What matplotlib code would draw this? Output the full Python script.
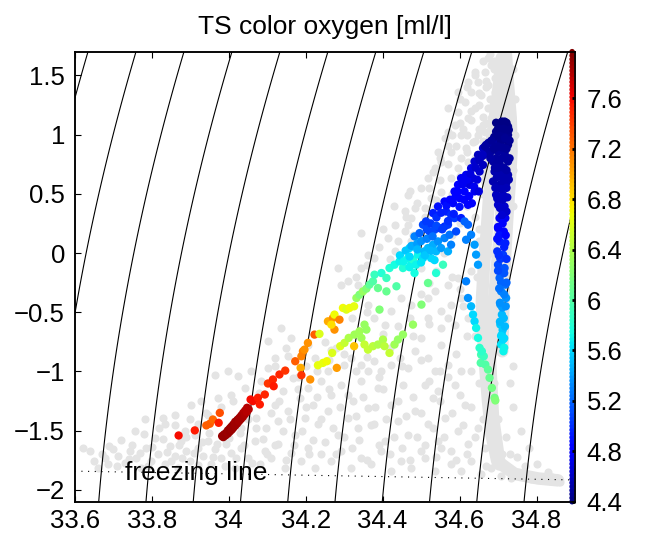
import numpy as np
import matplotlib
matplotlib.use("Agg")
import matplotlib.pyplot as plt
from matplotlib.ticker import FuncFormatter

plt.rcParams['font.family'] = ['Liberation Sans', 'DejaVu Sans']

# ---- background stations (grey), salinity / temperature ----
grey_sal = [
    33.622, 33.639, 33.661, 33.678, 33.687, 33.700, 33.713, 33.730, 33.743, 33.756,
    33.760, 33.773, 33.782, 33.786, 33.799, 33.808, 33.817, 33.829, 33.834, 33.847,
    33.860, 33.868, 33.877, 33.890, 33.899, 33.912, 33.920, 33.933, 33.946, 33.955,
    33.964, 33.981, 33.994, 34.007, 34.016, 34.033, 34.050, 34.068, 34.081, 34.094,
    34.111, 34.128, 34.146, 34.163, 34.189, 34.206, 34.224, 34.241, 34.267, 34.293,
    34.319, 34.345, 34.371, 34.397, 34.423, 34.449, 34.475, 34.509, 34.535, 34.553,
    34.579, 34.605, 34.631, 34.657, 34.683, 34.708, 34.735, 34.760, 34.786, 34.812,
    34.838, 34.856,
    33.834, 33.860, 33.886, 33.903, 33.920, 33.929, 33.946, 33.964, 33.972, 33.998,
    34.007, 34.024, 34.033, 34.042, 34.059, 34.072, 34.085, 34.098, 34.102, 34.120,
    34.128, 34.141, 34.154, 34.167, 34.172, 34.185, 34.198, 34.206, 34.219, 34.232,
    34.241, 34.258, 34.267, 34.284, 34.293, 34.310, 34.323, 34.336, 34.345, 34.362,
    34.379, 34.388, 34.405, 34.423, 34.440, 34.453, 34.466, 34.483, 34.501, 34.518,
    34.531, 34.544, 34.561, 34.579, 34.596, 34.613, 34.622, 34.648, 34.665,
    34.137, 34.163, 34.102, 34.120, 34.154, 34.206, 34.224, 34.258, 34.267, 34.301,
    34.319, 34.345, 34.362, 34.379, 34.397, 34.423, 34.444, 34.466, 34.483, 34.501,
    34.518, 34.535, 34.553, 34.570, 34.587, 34.605, 34.509, 34.544,
    34.345, 34.362, 34.379, 34.414, 34.431, 34.457, 34.466, 34.475, 34.501, 34.518,
    34.535, 34.553, 34.570, 34.579, 34.587, 34.596, 34.605, 34.622, 34.553, 34.518,
    34.475, 34.449, 34.423, 34.405, 34.379, 34.362, 34.336, 34.310, 34.284, 34.345,
    34.293,
    34.431, 34.457, 34.466, 34.483, 34.501, 34.518, 34.527, 34.535, 34.544, 34.553,
    34.561, 34.570, 34.579, 34.587, 34.596, 34.605, 34.613, 34.622, 34.631, 34.639,
    34.648, 34.657, 34.665, 34.674, 34.683, 34.691, 34.674, 34.661, 34.648, 34.635,
    34.618, 34.605, 34.596, 34.579, 34.553, 34.535, 34.509, 34.475, 34.570, 34.596,
    34.622, 34.639, 34.674, 34.700, 34.691, 34.687, 34.665, 34.622, 34.683,
]
grey_temp = [
    -1.645, -1.673, -1.814, -1.729, -1.786, -1.659, -1.715, -1.772, -1.673, -1.505,
    -1.729, -1.814, -1.406, -1.645, -1.758, -1.561, -1.701, -1.392, -1.786, -1.631,
    -1.715, -1.814, -1.589, -1.673, -1.758, -1.533, -1.645, -1.715, -1.589, -1.786,
    -1.659, -1.729, -1.617, -1.687, -1.814, -1.645, -1.729, -1.589, -1.786, -1.673,
    -1.729, -1.617, -1.814, -1.687, -1.758, -1.645, -1.814, -1.701, -1.758, -1.673,
    -1.814, -1.729, -1.786, -1.673, -1.842, -1.758, -1.814, -1.729, -1.842, -1.645,
    -1.786, -1.842, -1.758, -1.870, -1.814, -1.884, -1.898, -1.884, -1.912, -1.898,
    -1.926, -1.920,
    -1.448, -1.364, -1.505, -1.280, -1.448, -1.252, -1.364, -1.027, -1.223, -0.999,
    -1.195, -1.041, -1.476, -1.139, -0.999, -1.392, -1.083, -1.476, -0.970, -1.280,
    -1.420, -1.167, -1.336, -1.055, -1.533, -1.223, -1.392, -1.139, -1.280, -1.448,
    -1.083, -1.336, -1.195, -1.533, -1.111, -1.392, -1.252, -1.476, -1.083, -1.308,
    -1.448, -1.139, -1.589, -1.280, -1.420, -1.111, -1.533, -1.336, -1.673, -1.448,
    -1.223, -1.589, -1.392, -1.673, -1.505, -1.280, -1.617, -1.476, -1.645,
    -0.633, -0.717, -0.746, -0.886, -0.872, -0.774, -0.886, -0.999, -0.816, -0.942,
    -0.886, -0.942, -0.999, -0.914, -0.999, -0.942, -0.886, -0.970, -0.830, -0.717,
    -0.886, -0.999, -0.774, -0.942, -1.111, -0.999, -1.111, -1.167,
    0.168, -0.015, -0.043, 0.126, 0.013, 0.182, 0.238, 0.098, -0.127, -0.380,
    -0.324, -0.493, -0.268, -0.436, -0.605, -0.211, -0.380, -0.549, -0.633, -0.549,
    -0.436, -0.380, -0.493, -0.605, -0.549, -0.436, -0.268, -0.240, -0.127, -0.127,
    -0.268,
    0.238, 0.351, 0.491, 0.379, 0.547, 0.632, 0.463, 0.716, 0.857, 0.772,
    0.969, 1.025, 0.857, 1.082, 1.194, 0.997, 1.278, 1.138, 1.363, 1.222,
    1.447, 1.335, 1.531, 1.419, 1.588, 1.475, 1.222, 1.082, 0.997, 0.941,
    0.885, 0.800, 0.716, 0.632, 0.519, 0.379, 0.379, 0.295, 1.222, 1.363,
    1.447, 1.531, 1.644, 1.616, 1.363, 1.250, 1.025, 0.772, 1.138,
]

# more grey stations: cold shelf water, mid-depth, upper slope and deep plume
grey2_sal = [
    33.65, 33.67, 33.69, 33.71, 33.72, 33.74, 33.75, 33.77, 33.78, 33.79,
    33.80, 33.82, 33.83, 33.84, 33.85, 33.86, 33.87, 33.88, 33.89, 33.90,
    33.91, 33.92, 33.93, 33.94, 33.95, 33.96, 33.97, 33.98, 33.99, 34.00,
    34.01, 34.02, 34.03, 34.04, 34.05, 34.06, 34.07, 34.08, 34.09, 34.10,
    34.11, 34.12, 34.13, 34.14, 34.15, 34.16, 34.17, 34.18, 34.19, 34.20,
    34.21, 34.22, 34.23, 34.24, 34.25, 34.26, 34.27, 34.28, 34.29, 34.30,
    34.31, 34.32, 34.33, 34.34, 34.35, 34.36, 34.37, 34.38, 34.39, 34.40,
    34.41, 34.42, 34.43, 34.44, 34.45, 34.46, 34.47, 34.48, 34.49, 34.50,
    34.51, 34.52, 34.53, 34.54, 34.55, 34.56, 34.57, 34.58, 34.59, 34.60,
    34.61, 34.62, 34.63, 34.64, 34.65, 34.66, 34.67, 34.69, 34.70, 34.72,
    34.75, 34.78, 34.81, 34.84, 34.86, 34.83, 34.77, 34.73,
    34.20, 34.23, 34.26, 34.30, 34.33, 34.36, 34.39, 34.42, 34.45, 34.48,
    34.50, 34.52, 34.55, 34.57, 34.59, 34.60, 34.62, 34.63, 34.47, 34.44,
    34.40, 34.36, 34.32, 34.28, 34.25, 34.15, 34.12, 34.18,
    34.33, 34.36, 34.39, 34.42, 34.40, 34.44, 34.46, 34.48, 34.49, 34.51,
    34.52, 34.54, 34.55, 34.56, 34.57, 34.58, 34.59, 34.60, 34.61, 34.62,
    34.63, 34.64, 34.65, 34.66, 34.67, 34.68, 34.69, 34.70, 34.71, 34.64,
    34.62, 34.66, 34.60, 34.58, 34.56, 34.54, 34.52, 34.50, 34.58, 34.61,
    34.63, 34.65, 34.67, 34.66, 34.55, 34.53, 34.47, 34.43,
    34.74, 34.76, 34.78, 34.75, 34.80, 34.72, 34.73, 34.74,
    34.60, 34.62, 34.64, 34.66, 34.68, 34.65, 34.67, 34.69, 34.70, 34.71,
    34.68, 34.66, 34.64, 34.62, 34.60, 34.58, 34.57, 34.63, 34.65, 34.67,
    34.69, 34.72, 34.74, 34.745, 34.745, 34.74, 34.74,
    34.64, 34.65, 34.66, 34.645, 34.655, 34.65, 34.675, 34.68, 34.675, 34.64,
    34.66, 34.68, 34.67, 34.69, 34.70, 34.69, 34.71,
]
grey2_temp = [
    -1.76, -1.70, -1.63, -1.80, -1.58, -1.74, -1.62, -1.69, -1.53, -1.80,
    -1.64, -1.48, -1.57, -1.68, -1.76, -1.45, -1.62, -1.73, -1.55, -1.40,
    -1.69, -1.79, -1.60, -1.35, -1.52, -1.72, -1.61, -1.30, -1.80, -1.56,
    -1.25, -1.73, -1.52, -1.62, -1.40, -1.77, -1.48, -1.18, -1.57, -1.70,
    -1.35, -1.62, -1.25, -1.50, -1.75, -1.40, -1.62, -1.15, -1.50, -1.30,
    -1.70, -1.58, -1.22, -1.40, -1.60, -1.15, -1.48, -1.70, -1.30, -1.55,
    -1.20, -1.65, -1.38, -1.58, -1.22, -1.75, -1.45, -1.30, -1.62, -1.15,
    -1.40, -1.70, -1.55, -1.25, -1.65, -1.38, -1.75, -1.22, -1.55, -1.35,
    -1.62, -1.08, -1.48, -1.72, -1.25, -1.55, -1.05, -1.35, -1.75, -1.20,
    -1.45, -1.70, -1.30, -1.55, -1.10, -1.40, -1.80, -1.60, -1.75, -1.82,
    -1.86, -1.88, -1.91, -1.89, -1.93, -1.85, -1.80, -1.70,
    -0.95, -1.00, -0.90, -0.85, -1.00, -0.88, -1.05, -0.80, -0.95, -0.70,
    -0.90, -0.60, -1.00, -0.55, -0.85, -0.30, -0.70, -1.00, -0.55, -0.62,
    -0.68, -0.50, -0.55, -0.80, -0.75, -0.80, -0.95, -1.05,
    -0.20, -0.10, 0.05, -0.05, 0.20, 0.10, 0.30, 0.15, 0.42, 0.30,
    0.55, 0.45, 0.62, 0.35, 0.75, 0.50, 0.90, 0.65, 1.05, 0.85,
    1.20, 0.95, 1.35, 1.15, 1.45, 1.30, 1.55, 1.45, 1.65, 0.60,
    0.40, 0.50, 0.25, 0.15, 0.00, -0.15, -0.25, -0.35, -0.20, -0.45,
    -0.15, 0.20, 0.75, 0.95, 0.80, 0.68, 0.52, 0.40,
    -1.30, -1.50, -1.65, -1.72, -1.78, -1.55, -1.10, -0.95,
    1.30, 1.40, 1.50, 1.62, 1.68, 1.25, 1.10, 1.20, 1.35, 1.50,
    0.95, 0.70, 0.80, 1.00, 1.10, 1.00, 0.90, 1.12, 1.05, 1.40,
    1.62, 1.68, 1.55, 1.30, 1.00, 0.70, 0.40,
    0.30, 0.10, -0.05, -0.20, -0.35, -0.55, 0.30, 0.00, -0.40, -0.70,
    -0.85, -1.00, -1.20, -1.10, -1.40, -1.60, -1.70,
]

# dense grey core of the deep profiles
core1_sal = [34.720, 34.726, 34.733, 34.735, 34.730, 34.724, 34.719, 34.715, 34.713, 34.711]
core1_temp = [1.700, 1.419, 1.138, 0.857, 0.576, 0.295, 0.013, -0.268, -0.549, -0.830]
core2_sal = [34.708, 34.701, 34.693, 34.683, 34.676, 34.670, 34.663, 34.658, 34.661, 34.667,
             34.674, 34.683, 34.698, 34.743, 34.804, 34.856]
core2_temp = [1.588, 1.278, 0.997, 0.716, 0.435, 0.154, -0.127, -0.408, -0.689, -0.970,
              -1.252, -1.533, -1.758, -1.865, -1.904, -1.920]
core3_sal = [34.713, 34.717, 34.708, 34.693, 34.678, 34.687, 34.704]
core3_temp = [1.419, 0.857, 0.295, -0.268, -0.830, -1.392, -1.786]
core4_sal = [34.710, 34.700, 34.690, 34.680, 34.672]
core4_temp = [1.65, 1.35, 1.10, 0.85, 0.60]

# ---- selected station, coloured by oxygen [ml/l] ----
ox_sal = [
    33.983, 33.988, 33.994, 33.998, 34.003, 34.007, 34.012, 34.017, 34.023, 34.028,
    34.033, 34.038, 34.043, 34.048,
    33.870, 33.912, 33.942, 33.951, 33.959, 33.977, 33.974, 34.057, 34.063, 34.076,
    34.081, 34.094, 34.102, 34.115, 34.117, 34.132, 34.147, 34.173, 34.189, 34.193,
    34.197, 34.206, 34.223, 34.187, 34.189, 34.212,
    34.236, 34.258, 34.271, 34.275, 34.288, 34.297, 34.306, 34.314, 34.326, 34.275,
    34.267,
    34.332, 34.340, 34.349, 34.358, 34.366, 34.375, 34.379, 34.388, 34.397, 34.410,
    34.418, 34.431, 34.436, 34.444, 34.453, 34.466, 34.474, 34.479, 34.487, 34.483,
    34.492, 34.505, 34.509, 34.518, 34.526, 34.531, 34.539, 34.544, 34.552, 34.561,
    34.570, 34.574, 34.557, 34.539,
    34.470, 34.483, 34.496, 34.505, 34.513, 34.522, 34.535, 34.548, 34.561, 34.531,
    34.544, 34.561, 34.565, 34.578, 34.583, 34.587, 34.587, 34.596, 34.600, 34.604,
    34.613, 34.617, 34.626, 34.630, 34.639, 34.635, 34.648, 34.652, 34.661, 34.669,
    34.678, 34.661, 34.639, 34.622, 34.604, 34.591, 34.578, 34.570,
    34.613, 34.622, 34.617, 34.630, 34.639, 34.643, 34.648, 34.617, 34.622, 34.630,
    34.635, 34.639, 34.643, 34.648, 34.652, 34.656, 34.655, 34.663, 34.667, 34.674,
    34.678, 34.684, 34.691, 34.693, 34.658,
    34.717, 34.704, 34.726, 34.695, 34.713, 34.726, 34.691, 34.708, 34.726, 34.682,
    34.700, 34.717, 34.687, 34.704, 34.726, 34.691, 34.708, 34.726, 34.687, 34.704,
    34.721, 34.695, 34.713, 34.700, 34.717, 34.704, 34.719, 34.700, 34.715, 34.704,
    34.719, 34.698, 34.713, 34.700, 34.717, 34.704, 34.719, 34.708, 34.721, 34.706,
    34.710, 34.706, 34.710, 34.708, 34.714,
    34.232, 34.245, 34.255, 34.269, 34.281, 34.290, 34.301, 34.312, 34.326, 34.327,
    34.340, 34.345, 34.353, 34.358, 34.353, 34.362, 34.375, 34.388, 34.401, 34.405,
    34.418, 34.431, 34.440, 34.453, 34.392, 34.479, 34.501, 34.518, 34.410,
]
ox_temp = [
    -1.546, -1.532, -1.518, -1.498, -1.482, -1.467, -1.448, -1.425, -1.408, -1.392,
    -1.372, -1.350, -1.330, -1.307,
    -1.541, -1.498, -1.456, -1.442, -1.406, -1.350, -1.434, -1.237, -1.251, -1.223,
    -1.279, -1.195, -1.102, -1.068, -1.125, -1.026, -0.993, -0.914, -0.872, -0.830,
    -0.816, -0.759, -0.689, -0.970, -1.032, -1.068,
    -0.683, -0.577, -0.548, -0.520, -0.563, -0.464, -0.478, -0.464, -0.450, -0.647,
    -0.605,
    -0.380, -0.352, -0.324, -0.301, -0.267, -0.239, -0.183, -0.296, -0.169, -0.211,
    -0.127, -0.099, -0.281, -0.071, -0.127, -0.043, -0.099, -0.057, -0.099, -0.169,
    -0.014, -0.043, 0.014, 0.042, -0.043, 0.070, 0.014, 0.098, 0.042, 0.126,
    0.014, 0.154, -0.099, -0.169,
    0.042, 0.140, 0.168, 0.239, 0.267, 0.182, 0.196, 0.210, 0.224, 0.337,
    0.393, 0.435, 0.351, 0.323, 0.421, 0.295, 0.520, 0.576, 0.463, 0.632,
    0.520, 0.660, 0.576, 0.716, 0.773, 0.632, 0.829, 0.688, 0.885, 0.913,
    0.857, 0.744, 0.520, 0.407, 0.295, 0.182, 0.070, 0.239,
    0.267, 0.239, 0.112, 0.154, 0.070, -0.014, -0.099, -0.239, -0.380, -0.450,
    -0.520, -0.577, -0.633, -0.717, -0.801, -0.858, -0.928, -0.872, -0.942, -0.984,
    -1.054, -1.139, -1.223, -1.245, -0.830,
    1.110, 1.082, 1.068, 1.025, 1.025, 0.997, 0.941, 0.941, 0.913, 0.857,
    0.857, 0.843, 0.773, 0.758, 0.773, 0.688, 0.674, 0.660, 0.604, 0.576,
    0.590, 0.491, 0.491, 0.407, 0.393, 0.295, 0.295, 0.210, 0.182, 0.098,
    0.084, 0.014, -0.014, -0.099, -0.127, -0.211, -0.267, -0.324, -0.380, -0.436,
    -0.520, -0.605, -0.689, -0.773, -0.830,
    -0.948, -0.928, -0.914, -0.844, -0.970, -0.787, -0.759, -0.717, -0.787, -0.689,
    -0.661, -0.717, -0.605, -0.647, -0.773, -0.816, -0.787, -0.773, -0.731, -0.787,
    -0.844, -0.773, -0.731, -0.689, -0.478, -0.605, -0.436, -0.253, -0.324,
]
ox_val = [
    7.90, 7.90, 7.90, 7.88, 7.90, 7.88, 7.90, 7.85, 7.88, 7.85,
    7.85, 7.82, 7.80, 7.80,
    7.60, 7.55, 7.30, 7.30, 7.25, 7.35, 7.55, 7.60, 7.60, 7.55,
    7.55, 7.50, 7.45, 7.50, 7.55, 7.50, 7.45, 7.30, 7.15, 7.15,
    7.10, 7.10, 7.30, 7.00, 7.45, 7.10,
    6.60, 7.00, 7.10, 6.70, 7.15, 6.70, 6.60, 6.70, 6.65, 7.10,
    6.80,
    6.30, 6.20, 6.30, 6.20, 6.05, 6.00, 5.90, 6.10, 5.80, 5.90,
    5.80, 5.75, 6.00, 5.70, 5.80, 5.75, 5.70, 5.80, 5.70, 5.75,
    5.70, 5.60, 5.50, 5.50, 5.60, 5.45, 5.50, 5.35, 5.40, 5.30,
    5.45, 5.25, 5.90, 5.80,
    5.60, 5.30, 5.20, 5.10, 5.05, 5.10, 5.10, 5.05, 5.00, 4.95,
    4.90, 4.85, 4.95, 5.00, 4.85, 5.05, 4.80, 4.80, 4.80, 4.75,
    4.80, 4.75, 4.70, 4.70, 4.65, 4.70, 4.60, 4.65, 4.60, 4.55,
    4.55, 4.60, 4.75, 4.85, 4.95, 5.10, 5.30, 5.05,
    5.20, 5.20, 5.30, 5.30, 5.40, 5.40, 5.40, 5.30, 5.35, 5.50,
    5.60, 5.60, 5.70, 5.75, 5.85, 5.95, 6.00, 5.90, 6.00, 6.05,
    6.10, 6.15, 6.15, 6.20, 5.85,
    4.45, 4.45, 4.45, 4.45, 4.45, 4.45, 4.50, 4.45, 4.45, 4.50,
    4.50, 4.50, 4.50, 4.50, 4.50, 4.55, 4.55, 4.55, 4.55, 4.55,
    4.55, 4.60, 4.60, 4.65, 4.65, 4.75, 4.75, 4.85, 4.85, 4.95,
    4.95, 5.00, 5.05, 5.10, 5.15, 5.20, 5.25, 5.30, 5.35, 5.40,
    5.50, 5.55, 5.60, 5.65, 5.70,
    6.65, 6.65, 6.70, 6.60, 7.05, 6.60, 6.50, 6.40, 6.90, 6.35,
    6.35, 6.35, 6.30, 6.30, 6.50, 6.50, 6.45, 6.40, 6.40, 6.45,
    6.50, 6.35, 6.30, 6.30, 6.20, 6.30, 6.20, 6.10, 6.10,
]

# extra samples of the same station: deep column, upper blue branch, cold end
ox2_sal = [
    34.695, 34.710, 34.722, 34.728, 34.700, 34.715, 34.690, 34.705, 34.718, 34.730,
    34.688, 34.700, 34.712, 34.722, 34.695, 34.710, 34.720, 34.730, 34.692, 34.700,
    34.715, 34.722, 34.697, 34.712, 34.728, 34.693, 34.708, 34.722, 34.698, 34.712,
    34.724, 34.705, 34.722, 34.710,
    34.666, 34.675, 34.683, 34.670, 34.680, 34.660, 34.690,
    34.712, 34.703, 34.716, 34.706, 34.716, 34.708, 34.716, 34.711, 34.715, 34.712,
    34.713, 34.716,
    34.515, 34.525, 34.540, 34.552, 34.566, 34.575, 34.590, 34.595, 34.608, 34.620,
    34.628, 34.642, 34.652, 34.660, 34.540, 34.555, 34.570, 34.585, 34.600, 34.612,
    34.625, 34.638, 34.646, 34.650, 34.632,
    34.445, 34.460, 34.475, 34.490, 34.500, 34.515, 34.530, 34.455, 34.470, 34.490,
    34.510, 34.525, 34.535, 34.500, 34.470,
    33.986, 33.992, 33.998, 34.003, 34.008, 34.012, 34.017, 34.022, 34.027, 34.032,
    34.037, 34.042, 34.047, 34.052,
    34.700, 34.698, 34.702, 34.700, 34.703, 34.705, 34.705, 34.708, 34.720, 34.722,
    34.722, 34.720, 34.718, 34.716,
]
ox2_temp = [
    1.10, 1.11, 1.10, 1.04, 1.05, 1.05, 0.98, 0.99, 0.97, 0.95,
    0.90, 0.90, 0.89, 0.88, 0.80, 0.80, 0.81, 0.80, 0.72, 0.72,
    0.72, 0.70, 0.64, 0.63, 0.62, 0.55, 0.54, 0.55, 0.46, 0.45,
    0.47, 0.38, 0.35, 0.32,
    0.90, 0.93, 0.95, 0.84, 0.80, 0.82, 0.88,
    0.25, 0.15, 0.05, -0.05, -0.17, -0.25, -0.35, -0.46, -0.55, -0.65,
    -0.73, -0.80,
    0.20, 0.25, 0.30, 0.34, 0.40, 0.45, 0.48, 0.52, 0.58, 0.62,
    0.67, 0.72, 0.78, 0.83, 0.23, 0.20, 0.27, 0.33, 0.39, 0.45,
    0.48, 0.56, 0.62, 0.52, 0.42,
    -0.02, 0.02, 0.06, 0.08, 0.10, 0.12, 0.14, -0.07, -0.03, 0.03,
    -0.02, 0.02, -0.06, -0.08, -0.12,
    -1.555, -1.540, -1.525, -1.508, -1.492, -1.476, -1.458, -1.440, -1.420, -1.402,
    -1.384, -1.362, -1.342, -1.320,
    0.22, 0.12, -0.02, -0.15, -0.30, -0.42, -0.58, -0.70, 0.15, -0.05,
    -0.25, -0.45, -0.62, -0.72,
]
ox2_val = [
    4.42, 4.42, 4.42, 4.44, 4.44, 4.44, 4.45, 4.45, 4.46, 4.46,
    4.48, 4.48, 4.48, 4.48, 4.50, 4.50, 4.50, 4.50, 4.52, 4.52,
    4.52, 4.52, 4.55, 4.55, 4.55, 4.57, 4.57, 4.57, 4.60, 4.60,
    4.60, 4.63, 4.63, 4.66,
    4.50, 4.50, 4.48, 4.52, 4.52, 4.55, 4.48,
    4.80, 4.90, 4.95, 5.05, 5.15, 5.20, 5.30, 5.40, 5.50, 5.55,
    5.60, 5.70,
    5.10, 5.05, 5.00, 4.95, 4.90, 4.85, 4.85, 4.80, 4.75, 4.75,
    4.70, 4.65, 4.60, 4.60, 5.10, 5.05, 5.00, 4.95, 4.90, 4.85,
    4.80, 4.75, 4.70, 4.70, 4.80,
    5.60, 5.55, 5.45, 5.40, 5.35, 5.30, 5.25, 5.70, 5.60, 5.50,
    5.55, 5.50, 5.60, 5.65, 5.70,
    7.90, 7.90, 7.88, 7.90, 7.88, 7.88, 7.86, 7.86, 7.85, 7.85,
    7.84, 7.82, 7.80, 7.80,
    4.80, 4.90, 5.00, 5.10, 5.25, 5.35, 5.50, 5.60, 4.85, 5.00,
    5.20, 5.35, 5.50, 5.60,
]

sal_lim = (33.6, 34.9)
temp_lim = (-2.1, 1.7)
ox_lim = (4.4, 7.97)
cbar_sal = 34.8925


def sigma0(s, t):
    # UNESCO 1983 density at the surface, minus 1000
    rho_w = (999.842594 + 6.793952e-2 * t - 9.095290e-3 * t**2 + 1.001685e-4 * t**3
             - 1.120083e-6 * t**4 + 6.536332e-9 * t**5)
    a = 8.24493e-1 - 4.0899e-3 * t + 7.6438e-5 * t**2 - 8.2467e-7 * t**3 + 5.3875e-9 * t**4
    b = -5.72466e-3 + 1.0227e-4 * t - 1.6546e-6 * t**2
    c = 4.8314e-4
    return rho_w + a * s + b * s**1.5 + c * s**2 - 1000.0


def freezing_point(s):
    return -0.0575 * s + 1.710523e-3 * s**1.5 - 2.154996e-4 * s**2


def fmt(v, pos):
    return f"{v:g}".replace("-", "\u2212")


fig = plt.figure(figsize=(6.47, 5.42), dpi=100)
ax = fig.add_axes([0.1155, 0.0744, 0.7732, 0.8302])

# isopycnals
ss, tt = np.meshgrid(np.linspace(*sal_lim, 200), np.linspace(*temp_lim, 200))
levels = np.round(np.arange(26.0, 28.6, 0.1), 2)
ax.contour(ss, tt, sigma0(ss, tt), levels=levels, colors='k', linewidths=0.8, zorder=2)

# freezing line
fs = np.linspace(*sal_lim, 100)
ax.plot(fs, freezing_point(fs), color='k', linestyle=(0, (1, 5)), linewidth=0.8, zorder=2)
ax.text(33.7306, -1.92, 'freezing line', fontsize=19, ha='left', va='baseline', zorder=4)

grey = '#e4e4e4'
for cs, ct in [(core1_sal, core1_temp), (core2_sal, core2_temp),
               (core3_sal, core3_temp), (core4_sal, core4_temp)]:
    ax.plot(cs, ct, color=grey, linewidth=9, solid_capstyle='round',
            solid_joinstyle='round', zorder=1)
ax.scatter(grey_sal + grey2_sal, grey_temp + grey2_temp, s=34, color=grey,
           linewidths=0, zorder=1)

ax.scatter(ox_sal + ox2_sal, ox_temp + ox2_temp, c=ox_val + ox2_val, cmap='jet',
           vmin=ox_lim[0], vmax=ox_lim[1], s=36, linewidths=0, zorder=3)

ax.set_xlim(*sal_lim)
ax.set_ylim(*temp_lim)
ax.set_xticks([33.6, 33.8, 34.0, 34.2, 34.4, 34.6, 34.8])
ax.set_yticks([-2, -1.5, -1, -0.5, 0, 0.5, 1, 1.5])
ax.xaxis.set_major_formatter(FuncFormatter(fmt))
ax.yaxis.set_major_formatter(FuncFormatter(fmt))
ax.tick_params(direction='in', length=4, width=0.8, labelsize=18.5, top=True, right=False)
ax.tick_params(axis='x', pad=5)
ax.tick_params(axis='y', pad=7)
for sp in ax.spines.values():
    sp.set_linewidth(1.1)
ax.set_title('TS color oxygen [ml/l]', fontsize=19, pad=13)

# dotted colour scale along the right edge
ax2 = ax.twinx()
ax2.set_ylim(*ox_lim)
scale_vals = np.arange(4.4, 7.98, 0.03)
ax2.scatter(np.full(scale_vals.shape, cbar_sal), scale_vals, c=scale_vals, cmap='jet',
            vmin=ox_lim[0], vmax=ox_lim[1], s=16, linewidths=0, clip_on=False, zorder=1)
ax2.set_xlim(*sal_lim)
ax2.set_yticks([4.4, 4.8, 5.2, 5.6, 6.0, 6.4, 6.8, 7.2, 7.6])
ax2.yaxis.set_major_formatter(FuncFormatter(fmt))
ax2.tick_params(direction='in', length=2, width=2, labelsize=18.5, pad=8.5)
for sp in ax2.spines.values():
    sp.set_linewidth(1.1)

fig.savefig('out.png', dpi=100)
